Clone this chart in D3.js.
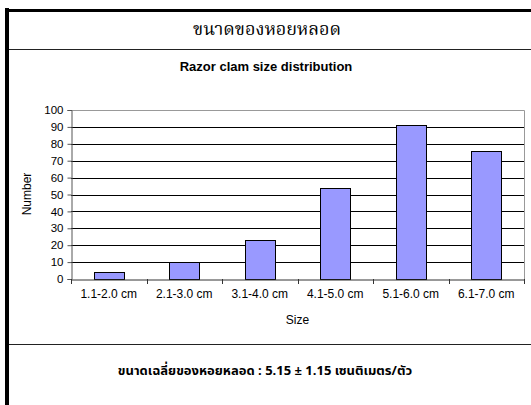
<!DOCTYPE html>
<html>
<head>
<meta charset="utf-8">
<script src="https://cdn.jsdelivr.net/npm/d3@7"></script>
<style>
  html, body { margin: 0; padding: 0; background: #fff; }
  svg { display: block; }
  text { font-family: "Liberation Sans", Arial, sans-serif; fill: #000; }
</style>
</head>
<body>
<svg id="chart" width="531" height="405"></svg>
<script>
// Razor clam size classes and counts
const categories = ["1.1-2.0 cm", "2.1-3.0 cm", "3.1-4.0 cm", "4.1-5.0 cm", "5.1-6.0 cm", "6.1-7.0 cm"];
const counts = [4, 10, 23, 54, 91, 76];
const yTicks = [0, 10, 20, 30, 40, 50, 60, 70, 80, 90, 100];

const headerTitle = "ขนาดของหอยหลอด";
const chartTitle = "Razor clam size distribution";
const xTitle = "Size";
const yTitle = "Number";
const footerText = "ขนาดเฉลี่ยของหอยหลอด : 5.15 ± 1.15 เซนติเมตร/ตัว";

const svg = d3.select("#chart");
const W = 531, H = 405;

// outer frame: thick left and top rules, thin separators
svg.append("line").attr("x1", 7).attr("x2", 7).attr("y1", 8).attr("y2", H)
  .attr("stroke", "#000").attr("stroke-width", 4);
svg.append("line").attr("x1", 5).attr("x2", W).attr("y1", 10.5).attr("y2", 10.5)
  .attr("stroke", "#000").attr("stroke-width", 3);
svg.append("line").attr("x1", 9).attr("x2", W).attr("y1", 49.5).attr("y2", 49.5)
  .attr("stroke", "#222").attr("stroke-width", 1.2);
svg.append("line").attr("x1", 9).attr("x2", W).attr("y1", 344.5).attr("y2", 344.5)
  .attr("stroke", "#222").attr("stroke-width", 1.2);

svg.append("text").attr("x", 267).attr("y", 35).attr("text-anchor", "middle")
  .style("font-family", "'Noto Serif Thai','Noto Sans Thai','Noto Sans',serif")
  .style("font-size", "18px").text(headerTitle);

svg.append("text").attr("x", 266).attr("y", 71).attr("text-anchor", "middle")
  .style("font-size", "13px").style("font-weight", "bold").text(chartTitle);

// plot area
const pLeft = 71, pRight = 524, pTop = 110, pBottom = 279;
const x = d3.scaleBand().domain(categories).range([pLeft, pRight]).padding(0);
const y = d3.scaleLinear().domain([0, 100]).range([pBottom, pTop]);

const g = svg.append("g");

// gridlines
g.selectAll("line.grid").data(yTicks.filter(v => v > 0 && v < 100)).join("line")
  .attr("class", "grid")
  .attr("x1", pLeft).attr("x2", pRight)
  .attr("y1", d => Math.round(y(d)) + 0.5).attr("y2", d => Math.round(y(d)) + 0.5)
  .attr("stroke", "#000").attr("stroke-width", 1);

// plot area border (top and right)
g.append("path")
  .attr("d", `M${pLeft},${Math.round(y(100)) + 0.5}H${pRight + 0.5}V${pBottom}`)
  .attr("fill", "none").attr("stroke", "#999").attr("stroke-width", 1);

// bars
const bw = x.bandwidth() * 0.4;
g.selectAll("rect.bar").data(categories).join("rect")
  .attr("class", "bar")
  .attr("x", (d) => Math.round(x(d) + (x.bandwidth() - bw) / 2) + 0.5)
  .attr("width", Math.round(bw))
  .attr("y", (d, i) => Math.round(y(counts[i])) + 0.5)
  .attr("height", (d, i) => Math.round(y(0)) - Math.round(y(counts[i])))
  .attr("fill", "#9999FF").attr("stroke", "#000").attr("stroke-width", 1);

// y axis
const yAxis = d3.axisLeft(y).tickValues(yTicks).tickSize(4).tickPadding(4);
const ya = g.append("g").attr("transform", `translate(${pLeft + 0.5},0)`).call(yAxis);
ya.select(".domain").attr("stroke", "#555");
ya.selectAll(".tick line").attr("stroke", "#555");
ya.selectAll(".tick text").style("font-size", "11.5px").style("font-family", "'Liberation Sans', Arial, sans-serif");

// x axis: labels centred in each band, ticks on band boundaries
const xAxis = d3.axisBottom(x).tickSize(0).tickPadding(10);
const xa = g.append("g").attr("transform", `translate(0,${Math.round(y(0)) + 0.5})`).call(xAxis);
xa.select(".domain").attr("stroke", "#333");
xa.selectAll(".tick text").style("font-size", "12px").style("font-family", "'Liberation Sans', Arial, sans-serif");
const bounds = categories.map(c => x(c)).concat([x.range()[1]]);
g.selectAll("line.xtick").data(bounds).join("line")
  .attr("class", "xtick")
  .attr("x1", d => Math.round(d) + 0.5).attr("x2", d => Math.round(d) + 0.5)
  .attr("y1", Math.round(y(0))).attr("y2", Math.round(y(0)) + 5)
  .attr("stroke", "#333");

svg.append("text").attr("x", (pLeft + pRight) / 2).attr("y", 324).attr("text-anchor", "middle")
  .style("font-size", "12px").text(xTitle);

svg.append("text").attr("transform", "translate(31,194) rotate(-90)").attr("text-anchor", "middle")
  .style("font-size", "12px").text(yTitle);

svg.append("text").attr("x", 265).attr("y", 375).attr("text-anchor", "middle")
  .style("font-family", "'Noto Sans Thai','Noto Sans',sans-serif")
  .style("font-size", "13px").style("font-weight", "bold").text(footerText);
</script>
</body>
</html>
